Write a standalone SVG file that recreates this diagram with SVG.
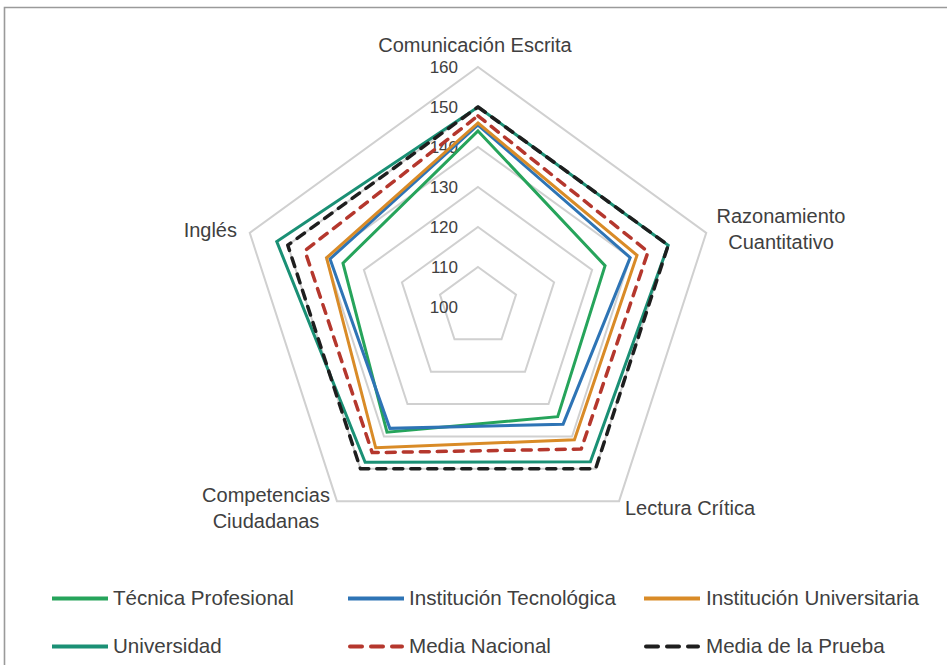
<svg xmlns="http://www.w3.org/2000/svg" width="947" height="665" viewBox="0 0 947 665">
<style>
text{font-family:"Liberation Sans",Arial,sans-serif;fill:#404040}
.cat{font-size:20px}
.num{font-size:17px;text-anchor:end}
.leg{font-size:20.6px}
.grid{fill:none;stroke:#d0d0d0;stroke-width:2}
.s{fill:none;stroke-width:3;stroke-linejoin:miter}
.d{fill:none;stroke-width:3.5;stroke-dasharray:9 8;stroke-linecap:round;stroke-linejoin:round}
.l{stroke-width:4}
.ld{stroke-width:4;stroke-dasharray:12 9;stroke-linecap:round}
.tp{stroke:#26a45b}
.it{stroke:#2e74b5}
.iu{stroke:#d98b27}
.un{stroke:#1a9075}
.mn{stroke:#b5372d}
.mp{stroke:#1e1e1e}
</style>
<rect x="0" y="0" width="947" height="665" fill="#ffffff"/>
<path d="M4.5,665 V7.5 H947" fill="none" stroke="#9a9a9a" stroke-width="1.6"/>
<g id="grid">
<polygon class="grid" points="478,267 516.04,294.64 501.51,339.36 454.49,339.36 439.96,294.64"/>
<polygon class="grid" points="478,227 554.08,282.28 525.02,371.72 430.98,371.72 401.92,282.28"/>
<polygon class="grid" points="478,187 592.13,269.92 548.53,404.08 407.47,404.08 363.87,269.92"/>
<polygon class="grid" points="478,147 630.17,257.56 572.05,436.44 383.95,436.44 325.83,257.56"/>
<polygon class="grid" points="478,107 668.21,245.2 595.56,468.8 360.44,468.8 287.79,245.2"/>
<polygon class="grid" points="478,67 706.25,232.84 619.07,501.16 336.93,501.16 249.75,232.84"/>
</g>
<g id="axis-labels">
<text class="num" x="458" y="73">160</text>
<text class="num" x="458" y="113">150</text>
<text class="num" x="458" y="153">140</text>
<text class="num" x="458" y="193">130</text>
<text class="num" x="458" y="233">120</text>
<text class="num" x="458" y="273">110</text>
<text class="num" x="458" y="313">100</text>
</g>
<g id="categories">
<text id="cat-ce" class="cat" x="475" y="52" text-anchor="middle">Comunicación Escrita</text>
<text id="cat-rc" class="cat" x="781" y="223" text-anchor="middle">Razonamiento<tspan x="781" y="249">Cuantitativo</tspan></text>
<text id="cat-lc" class="cat" x="690" y="515" text-anchor="middle">Lectura Crítica</text>
<text id="cat-cc" class="cat" x="266" y="502" text-anchor="middle">Competencias<tspan x="266" y="528">Ciudadanas</tspan></text>
<text id="cat-in" class="cat" x="237" y="237" text-anchor="end">Inglés</text>
</g>
<g id="series">
<polygon id="s-tecnica" class="s tp" points="478,131 605.06,265.72 557.7,416.7 387,432.2 342.95,263.12"/>
<polygon id="s-tecnologica" class="s it" points="478,125 630.17,257.56 563.11,424.15 389.83,428.35 330.02,258.92"/>
<polygon id="s-universitaria" class="s iu" points="478,123 637.02,255.33 574.4,439.68 375.72,447.77 326.59,257.8"/>
<polygon id="s-universidad" class="s un" points="478,107 668.21,245.2 590.39,461.68 365.14,462.33 276.76,241.61"/>
<polygon id="s-nacional" class="d mn" points="478,115.8 648.05,251.75 581.22,449.06 372.2,452.62 304.91,250.76"/>
<polygon id="s-prueba" class="d mp" points="478,107 668.21,245.2 595.56,468.8 360.44,468.8 287.79,245.2"/>
</g>
<g id="legend">
<g id="leg-tecnica"><line class="l tp" x1="52" y1="598.5" x2="108" y2="598.5"/><text class="leg" x="113" y="605">Técnica Profesional</text></g>
<g id="leg-tecnologica"><line class="l it" x1="348" y1="598.5" x2="404" y2="598.5"/><text class="leg" x="409" y="605">Institución Tecnológica</text></g>
<g id="leg-universitaria"><line class="l iu" x1="644" y1="598.5" x2="700" y2="598.5"/><text class="leg" x="706" y="605">Institución Universitaria</text></g>
<g id="leg-universidad"><line class="l un" x1="52" y1="646.5" x2="108" y2="646.5"/><text class="leg" x="113" y="653">Universidad</text></g>
<g id="leg-nacional"><line class="ld mn" x1="350" y1="646.5" x2="402" y2="646.5"/><text class="leg" x="409" y="653">Media Nacional</text></g>
<g id="leg-prueba"><line class="ld mp" x1="646" y1="646.5" x2="698" y2="646.5"/><text class="leg" x="706" y="653">Media de la Prueba</text></g>
</g>
</svg>
